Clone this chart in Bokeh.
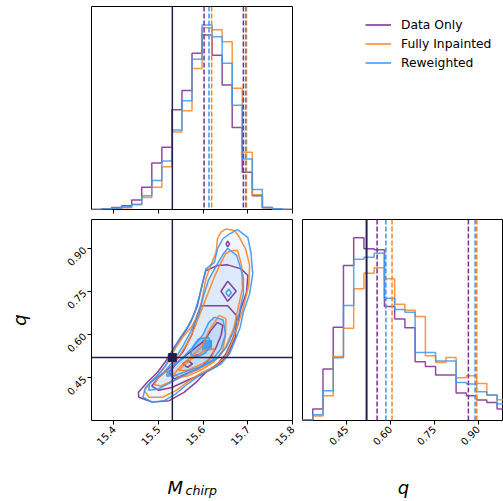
import numpy as np
from math import pi
from bokeh.plotting import figure
from bokeh.layouts import row, column
from bokeh.models import (Span, Label, Legend, LegendItem, FixedTicker, Range1d,
                          NumeralTickFormatter)
from bokeh.embed import file_html
from bokeh.resources import INLINE

# ---------------- data ----------------
names = ["Data Only", "Fully Inpainted", "Reweighted"]
colors = ["#7b2d8e", "#ff8420", "#3b97f2"]
truth_color = "#221e4f"

mc_range = (15.35, 15.80)
q_range = (0.30, 1.00)
n_bins = 20

mc_data_only = [0, 0.7, 2.0, 3.7, 9.3, 22, 46, 61.7, 98.7, 117.7, 154.7, 172.7, 152.7, 123.3, 81.3, 37, 13.7, 2.0, 0.3, 0]
mc_inpainted = [0, 0.7, 1.0, 1.7, 4.7, 12, 22, 42.3, 76.7, 97.7, 139.7, 180, 178, 166, 120, 56.7, 14.7, 1.7, 0, 0]
mc_reweighted = [0, 0.7, 1.3, 2.7, 5.3, 13.7, 28.7, 48, 78.7, 107.7, 148.7, 182.7, 171, 144.7, 103.3, 50, 19.7, 2.0, 0.7, 0]

q_data_only = [0.7, 11.4, 51.4, 93, 154.7, 182.4, 171.4, 170.4, 113.7, 101.4, 92.7, 58.7, 54, 45.4, 45.4, 27.4, 24.7, 20.4, 18, 11.4]
q_inpainted = [0.7, 4.4, 24.7, 64, 92, 131.4, 147, 152.4, 141.4, 116, 110, 103.7, 64.7, 58, 63, 42.7, 44.7, 37, 25.4, 20.7]
q_reweighted = [0.7, 5.7, 29.7, 62.7, 114.7, 161, 163, 167, 122, 110.7, 108, 68, 68, 59.4, 59.4, 38, 36.4, 28.7, 25.4, 16.4]

mc_quantiles = [[15.602, 15.690], [15.619, 15.697], [15.613, 15.695]]
q_quantiles = [[0.555, 0.867], [0.606, 0.8955], [0.585, 0.890]]

mc_true = 15.531
q_true = 0.519

mc_ticks = [15.4, 15.5, 15.6, 15.7, 15.8]
q_ticks = [0.45, 0.60, 0.75, 0.90]
q_hist_view_end = 0.987

# contour loops (Mchirp list, q list)
contours_data_only = [
    ([15.606, 15.632, 15.655, 15.685, 15.700, 15.697, 15.683, 15.678, 15.666, 15.651, 15.632, 15.606, 15.584,
      15.557, 15.524, 15.486, 15.456, 15.455, 15.475, 15.498, 15.520, 15.535, 15.554, 15.572, 15.587, 15.599],
     [0.822, 0.840, 0.842, 0.828, 0.805, 0.747, 0.683, 0.636, 0.584, 0.532, 0.497, 0.468, 0.433,
      0.398, 0.369, 0.364, 0.381, 0.398, 0.433, 0.468, 0.515, 0.555, 0.596, 0.642, 0.700, 0.782]),
    ([15.651, 15.655, 15.659, 15.655], [0.915, 0.925, 0.915, 0.905]),
    ([15.595, 15.655, 15.675, 15.672, 15.655, 15.632, 15.600, 15.565, 15.530, 15.500, 15.485, 15.500, 15.530,
      15.555, 15.575, 15.585],
     [0.700, 0.700, 0.665, 0.590, 0.530, 0.490, 0.463, 0.440, 0.415, 0.405, 0.420, 0.450, 0.490,
      0.540, 0.600, 0.660]),
    ([15.655, 15.674, 15.655, 15.640], [0.785, 0.750, 0.715, 0.750]),
    ([15.632, 15.644, 15.640, 15.629, 15.614, 15.591, 15.561, 15.535, 15.524, 15.539, 15.561, 15.584, 15.603, 15.617],
     [0.642, 0.631, 0.596, 0.555, 0.514, 0.480, 0.462, 0.445, 0.468, 0.497, 0.526, 0.555, 0.578, 0.613]),
    ([15.565, 15.576, 15.565, 15.554], [0.509, 0.497, 0.485, 0.497]),
    ([15.586, 15.589, 15.586, 15.583], [0.529, 0.526, 0.523, 0.526]),
]
contours_inpainted = [
    ([15.651, 15.670, 15.681, 15.695, 15.704, 15.702, 15.689, 15.677, 15.666, 15.651, 15.629, 15.599, 15.569,
      15.539, 15.509, 15.479, 15.468, 15.483, 15.505, 15.524, 15.539, 15.554, 15.576, 15.591, 15.599, 15.606,
      15.617, 15.629, 15.632, 15.640],
     [0.967, 0.962, 0.938, 0.898, 0.840, 0.770, 0.689, 0.631, 0.578, 0.526, 0.491, 0.468, 0.439,
      0.404, 0.381, 0.381, 0.404, 0.433, 0.468, 0.509, 0.555, 0.590, 0.631, 0.677, 0.735, 0.793,
      0.840, 0.886, 0.933, 0.956]),
    ([15.660, 15.677, 15.686, 15.688, 15.678, 15.668, 15.652, 15.635, 15.605, 15.570, 15.535, 15.505, 15.490,
      15.500, 15.525, 15.545, 15.565, 15.580, 15.595, 15.610, 15.625, 15.640, 15.650],
     [0.890, 0.893, 0.840, 0.760, 0.690, 0.620, 0.560, 0.520, 0.490, 0.465, 0.440, 0.420, 0.425,
      0.450, 0.480, 0.520, 0.570, 0.620, 0.680, 0.740, 0.800, 0.850, 0.880]),
    ([15.636, 15.651, 15.650, 15.644, 15.625, 15.600, 15.569, 15.545, 15.535, 15.550, 15.576, 15.598, 15.612],
     [0.666, 0.654, 0.600, 0.545, 0.505, 0.480, 0.457, 0.450, 0.462, 0.490, 0.525, 0.560, 0.610]),
    ([15.545, 15.575, 15.605, 15.625, 15.620, 15.595, 15.565], [0.475, 0.515, 0.545, 0.550, 0.520, 0.495, 0.475]),
]
contours_reweighted = [
    ([15.677, 15.700, 15.707, 15.711, 15.704, 15.690, 15.683, 15.670, 15.659, 15.640, 15.617, 15.591, 15.565,
      15.539, 15.513, 15.486, 15.465, 15.471, 15.494, 15.516, 15.530, 15.546, 15.565, 15.580, 15.591, 15.600,
      15.606, 15.625, 15.632, 15.644, 15.659],
     [0.965, 0.938, 0.886, 0.811, 0.741, 0.677, 0.625, 0.573, 0.532, 0.497, 0.477, 0.456, 0.427,
      0.393, 0.369, 0.364, 0.381, 0.416, 0.451, 0.491, 0.538, 0.582, 0.625, 0.671, 0.729, 0.787,
      0.828, 0.851, 0.898, 0.933, 0.950]),
    ([15.655, 15.675, 15.690, 15.690, 15.680, 15.668, 15.652, 15.630, 15.600, 15.565, 15.530, 15.500, 15.478,
      15.480, 15.510, 15.535, 15.555, 15.572, 15.590, 15.600, 15.612, 15.630, 15.645],
     [0.900, 0.875, 0.800, 0.740, 0.670, 0.610, 0.555, 0.515, 0.490, 0.465, 0.435, 0.410, 0.405,
      0.430, 0.465, 0.510, 0.560, 0.610, 0.670, 0.730, 0.790, 0.840, 0.880]),
    ([15.625, 15.645, 15.650, 15.640, 15.620, 15.590, 15.560, 15.535, 15.522, 15.530, 15.555, 15.580, 15.600, 15.612],
     [0.660, 0.650, 0.600, 0.550, 0.510, 0.485, 0.470, 0.455, 0.460, 0.485, 0.520, 0.560, 0.600, 0.640]),
    ([15.657, 15.663, 15.657, 15.651], [0.758, 0.745, 0.732, 0.745]),
    ([15.590, 15.612, 15.618, 15.605, 15.585, 15.572, 15.578], [0.585, 0.590, 0.565, 0.535, 0.520, 0.530, 0.560]),
    ([15.520, 15.530, 15.528, 15.518], [0.470, 0.475, 0.455, 0.455]),
]
density_shades = ["#f0f6fe", "#dceafb", "#c2dcf7", "#94c4f3"]
peak_cell = (15.5975, 15.62, 0.545, 0.58)

mc_hists = [mc_data_only, mc_inpainted, mc_reweighted]
q_hists = [q_data_only, q_inpainted, q_reweighted]
contour_sets = [contours_data_only, contours_inpainted, contours_reweighted]

FONT = "DejaVu Sans"


def base(width, height, xr, yr, **kw):
    p = figure(width=width, height=height, x_range=xr, y_range=yr, output_backend="svg",
               toolbar_location=None, tools="", **kw)
    p.grid.visible = False
    p.outline_line_color = "#000000"
    p.outline_line_width = 1
    p.background_fill_color = "white"
    p.border_fill_color = "white"
    return p


def style_axis(ax, ticks, fmt, show_labels=True):
    ax.ticker = FixedTicker(ticks=ticks)
    ax.formatter = NumeralTickFormatter(format=fmt)
    ax.minor_tick_line_color = None
    ax.major_tick_in = 0
    ax.major_tick_out = 4
    ax.major_tick_line_color = "#000000"
    ax.axis_line_color = None
    ax.major_label_text_font = FONT
    ax.major_label_text_color = "#000000"
    if show_labels:
        ax.major_label_text_font_size = "10px"
        ax.major_label_standoff = 3
        ax.major_label_orientation = pi / 4
    else:
        ax.major_label_overrides = {t: "" for t in ticks}
        ax.major_label_text_font_size = "4px"
        ax.major_label_standoff = 0


def step_xy(edges, counts):
    xs = [edges[0]] + list(edges)
    ys = [0] + list(counts) + [0]
    return xs, ys


mc_edges = np.linspace(mc_range[0], mc_range[1], n_bins + 1)
q_edges = np.linspace(q_range[0], q_range[1], n_bins + 1)

H1, H2, H3 = 218, 252, 31

# ---------------- top-left: Mchirp histogram ----------------
mc_top = 1.1 * max(max(h) for h in mc_hists)
pA = base(297, H1, Range1d(*mc_range), Range1d(0, mc_top), y_axis_location=None)
pA.min_border_left = 91
pA.min_border_right = 5
pA.min_border_top = 6
pA.min_border_bottom = 9
style_axis(pA.xaxis[0], mc_ticks, "0.0", show_labels=False)
for h, c in zip(mc_hists, colors):
    xs, ys = step_xy(mc_edges, h)
    pA.step(xs, ys, mode="after", line_color=c, line_width=1.5, line_alpha=0.85)
for qs, c in zip(mc_quantiles, colors):
    for v in qs:
        pA.add_layout(Span(location=v, dimension="height", line_color=c, line_width=1.5,
                           line_dash="5 2"))
pA.add_layout(Span(location=mc_true, dimension="height", line_color=truth_color, line_width=1.5))

# ---------------- top-right: legend ----------------
pB = base(206, H1, Range1d(0, 1), Range1d(0, 1), x_axis_location=None, y_axis_location=None)
pB.outline_line_color = None
pB.min_border = 0
items = []
for n, c in zip(names, colors):
    r = pB.line(x=[-5, -4], y=[-5, -5], line_color=c, line_width=1.5)
    items.append(LegendItem(label=n, renderers=[r]))
leg = Legend(items=items, location=(68, 137), padding=0, margin=0, spacing=0,
             glyph_height=19, label_height=19, glyph_width=26, label_standoff=10,
             border_line_color=None, background_fill_alpha=0,
             label_text_font=FONT, label_text_font_size="12.3px", label_text_color="#000000")
pB.add_layout(leg)

# ---------------- bottom-left: 2D ----------------
pC = base(297, H2, Range1d(*mc_range), Range1d(*q_range))
pC.min_border_left = 91
pC.min_border_right = 5
pC.min_border_top = 1
pC.min_border_bottom = 50
style_axis(pC.xaxis[0], mc_ticks, "0.0")
style_axis(pC.yaxis[0], q_ticks, "0.00")
pC.yaxis[0].axis_label = "q"
pC.yaxis[0].axis_label_text_font = FONT
pC.yaxis[0].axis_label_text_font_style = "italic"
pC.yaxis[0].axis_label_text_font_size = "18px"
pC.yaxis[0].axis_label_text_color = "#000000"
pC.yaxis[0].axis_label_standoff = 30

# density shading (Reweighted)
for loop, shade in zip(contours_reweighted[:3] + [contours_reweighted[4]], density_shades):
    pC.patch(loop[0], loop[1], fill_color=shade, line_color=None)
pC.quad(left=[peak_cell[0]], right=[peak_cell[1]], bottom=[peak_cell[2]], top=[peak_cell[3]],
        fill_color="#4ba0f1", line_color=None)

for cs, c in zip(contour_sets, colors):
    xs = [list(l[0]) + [l[0][0]] for l in cs]
    ys = [list(l[1]) + [l[1][0]] for l in cs]
    pC.multi_line(xs, ys, line_color=c, line_width=1.5, line_alpha=0.9)

pC.add_layout(Span(location=mc_true, dimension="height", line_color=truth_color, line_width=1.5))
pC.add_layout(Span(location=q_true, dimension="width", line_color=truth_color, line_width=1.5))
pC.scatter([mc_true], [q_true], marker="square", size=8, color=truth_color)

# ---------------- bottom-right: q histogram ----------------
q_top = 1.1 * max(max(h) for h in q_hists)
pD = base(206, H2, Range1d(q_range[0], q_hist_view_end), Range1d(0, q_top), y_axis_location=None)
pD.min_border_left = 5
pD.min_border_right = 0
pD.min_border_top = 1
pD.min_border_bottom = 50
style_axis(pD.xaxis[0], q_ticks, "0.00")
for h, c in zip(q_hists, colors):
    xs, ys = step_xy(q_edges, h)
    pD.step(xs, ys, mode="after", line_color=c, line_width=1.5, line_alpha=0.85)
for qs, c in zip(q_quantiles, colors):
    for v in qs:
        pD.add_layout(Span(location=v, dimension="height", line_color=c, line_width=1.5,
                           line_dash="5 2"))
pD.add_layout(Span(location=q_true, dimension="height", line_color=truth_color, line_width=2))

# ---------------- bottom strip: axis titles ----------------
pE = base(503, H3, Range1d(0, 1), Range1d(0, 1), x_axis_location=None, y_axis_location=None)
pE.outline_line_color = None
pE.min_border = 0
lab = dict(x_units="screen", y_units="screen", text_font=FONT, text_font_style="italic",
           text_baseline="alphabetic", text_color="#000000")
pE.add_layout(Label(x=167, y=14, text="M", text_font_size="18px", text_align="left", **lab))
pE.add_layout(Label(x=185, y=11, text="chirp", text_font_size="12.6px", text_align="left", **lab))
pE.add_layout(Label(x=403, y=14, text="q", text_font_size="18px", text_align="center", **lab))

layout = column(row(pA, pB), row(pC, pD), pE)
open("out.html", "w").write(file_html(layout, INLINE))
